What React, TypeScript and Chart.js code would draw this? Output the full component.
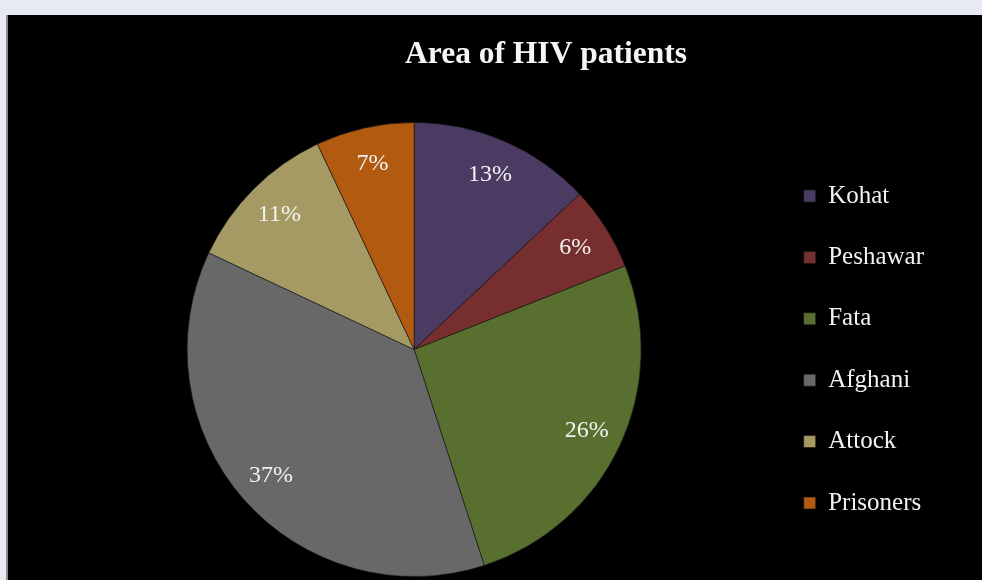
import React, { useEffect, useRef } from "react";
import { Chart, registerables } from "chart.js";

Chart.register(...registerables);

const titleText = "Area of HIV patients";
const categories = ["Kohat", "Peshawar", "Fata", "Afghani", "Attock", "Prisoners"];
const percentages = [13, 6, 26, 37, 11, 7];
const sliceColors = ["#4b3b62", "#772e2e", "#596f2f", "#686868", "#a59a63", "#b15a10"];

const SERIF = "'Liberation Serif', 'Times New Roman', serif";

const pieLabelsPlugin = {
  id: "pieLabels",
  afterDatasetsDraw(chart: any) {
    const ctx = chart.ctx;
    const meta = chart.getDatasetMeta(0);
    ctx.save();
    ctx.fillStyle = "#f2f2f2";
    ctx.font = `24px ${SERIF}`;
    ctx.textAlign = "center";
    ctx.textBaseline = "middle";
    meta.data.forEach((arc: any, i: number) => {
      const p = arc.getProps(["x", "y", "startAngle", "endAngle", "outerRadius"], true);
      const mid = (p.startAngle + p.endAngle) / 2;
      const r = p.outerRadius * 0.84;
      ctx.fillText(`${percentages[i]}%`, p.x + Math.cos(mid) * r, p.y + Math.sin(mid) * r);
    });
    ctx.restore();
  },
};

const titlePlugin = {
  id: "offsetTitle",
  afterDraw(chart: any) {
    const ctx = chart.ctx;
    ctx.save();
    ctx.fillStyle = "#f5f5f5";
    ctx.font = `bold 31.5px ${SERIF}`;
    ctx.textAlign = "center";
    ctx.textBaseline = "alphabetic";
    ctx.fillText(titleText, 538, 48);
    ctx.restore();
  },
};

export default function App() {
  const canvasRef = useRef<HTMLCanvasElement | null>(null);

  useEffect(() => {
    if (!canvasRef.current) return;
    const chart = new Chart(canvasRef.current, {
      type: "pie",
      data: {
        labels: categories,
        datasets: [
          {
            data: percentages,
            backgroundColor: sliceColors,
            borderColor: "rgba(20,20,20,0.6)",
            borderWidth: 1,
          },
        ],
      },
      options: {
        responsive: false,
        animation: false,
        layout: { padding: { left: 53, right: 48, top: 107, bottom: 3 } },
        plugins: {
          title: { display: false },
          tooltip: { enabled: false },
          legend: {
            display: true,
            position: "right",
            labels: {
              color: "#f2f2f2",
              font: { family: SERIF, size: 25 },
              boxWidth: 12,
              boxHeight: 12,
              padding: 36.4,
            },
          },
        },
      },
      plugins: [pieLabelsPlugin, titlePlugin],
    });
    return () => chart.destroy();
  }, []);

  return (
    <div
      style={{
        position: "fixed",
        left: 0,
        top: 0,
        width: 982,
        height: 580,
        background: "#e6eaf5",
        overflow: "hidden",
      }}
    >
      <div style={{ position: "absolute", left: 6, top: 15, width: 2, height: 565, background: "#8a8a8a" }} />
      <div style={{ position: "absolute", left: 8, top: 15, width: 974, height: 565, background: "#000" }}>
        <canvas ref={canvasRef} width={974} height={565} style={{ display: "block" }} />
      </div>
    </div>
  );
}
